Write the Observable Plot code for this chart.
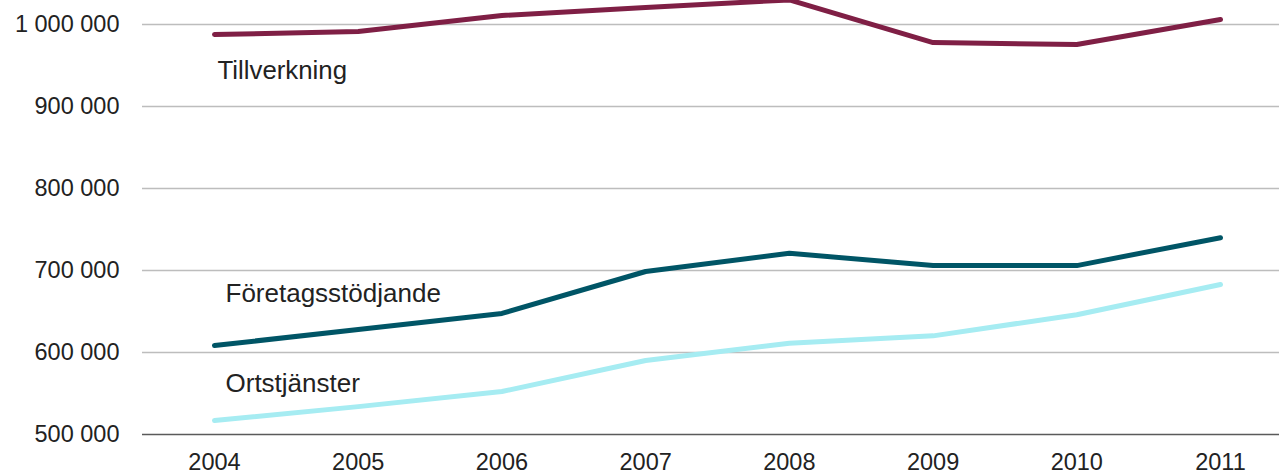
<!DOCTYPE html>
<html>
<head>
<meta charset="utf-8">
<script src="https://cdn.jsdelivr.net/npm/d3@7"></script>
<script src="https://cdn.jsdelivr.net/npm/@observablehq/plot@0.6"></script>
<style>
  html, body { margin: 0; padding: 0; background: #fff; }
  #chart svg { display: block; }
</style>
</head>
<body>
<div id="chart"></div>
<script>
const years = [2004, 2005, 2006, 2007, 2008, 2009, 2010, 2011];
const tillverkning = [987800, 991500, 1011000, 1020700, 1030000, 978000, 975600, 1006100];
const foretagsstodjande = [608500, 628000, 647600, 698800, 721000, 706000, 706000, 740000];
const ortstjanster = [517000, 534000, 552400, 590200, 611300, 620300, 646000, 683000];
const seriesNames = ["Tillverkning", "Företagsstödjande", "Ortstjänster"];
const seriesColors = ["#7f1f45", "#005566", "#a6ecf2"];
const yTicks = [500000, 600000, 700000, 800000, 900000, 1000000];
// label anchor values (year, value) for the in-chart series labels
const labelYears = [2004, 2004, 2004];
const labelValues = [944000, 672000, 562000];

const allSeries = [tillverkning, foretagsstodjande, ortstjanster];
const data = [];
allSeries.forEach((vals, i) => years.forEach((yr, j) => data.push({year: yr, value: vals[j], series: seriesNames[i]})));
const labels = seriesNames.map((s, i) => ({series: s, year: labelYears[i], value: labelValues[i]}));

const fmt = d => d3.format(",")(d).replace(/,/g, " ");

const chart = Plot.plot({
  width: 1279,
  height: 474,
  marginLeft: 142,
  marginRight: 0,
  marginTop: 0,
  marginBottom: 40,
  style: {fontFamily: "'Liberation Sans', Arial, sans-serif", fontSize: "23.5px", color: "#222", background: "#fff"},
  x: {type: "linear", domain: [2004, 2011], range: [214, 1220], label: null},
  y: {domain: [500000, 1029268], label: null},
  color: {domain: seriesNames, range: seriesColors},
  marks: [
    Plot.ruleY(yTicks.filter(d => d > 500000), {stroke: "#bdbdbd", strokeWidth: 1.5}),
    Plot.ruleY([500000], {stroke: "#5a5a5a", strokeWidth: 1.5}),
    Plot.axisY({ticks: yTicks, tickFormat: fmt, tickSize: 0, tickPadding: 23, fill: "#222", label: null}),
    Plot.axisX({ticks: years, tickFormat: d => String(d), tickSize: 0, tickPadding: 18.5, fill: "#222", label: null}),
    Plot.line(data, {x: "year", y: "value", z: "series", stroke: "series", strokeWidth: 5, strokeLinecap: "round", strokeLinejoin: "round", clip: true}),
    Plot.text(labels.slice(0, 1), {x: "year", y: "value", text: "series", textAnchor: "start", dx: 3, fill: "#222", fontSize: 25.8}),
    Plot.text(labels.slice(1), {x: "year", y: "value", text: "series", textAnchor: "start", dx: 11, fill: "#222", fontSize: 26})
  ]
});
document.getElementById("chart").appendChild(chart);
</script>
</body>
</html>
